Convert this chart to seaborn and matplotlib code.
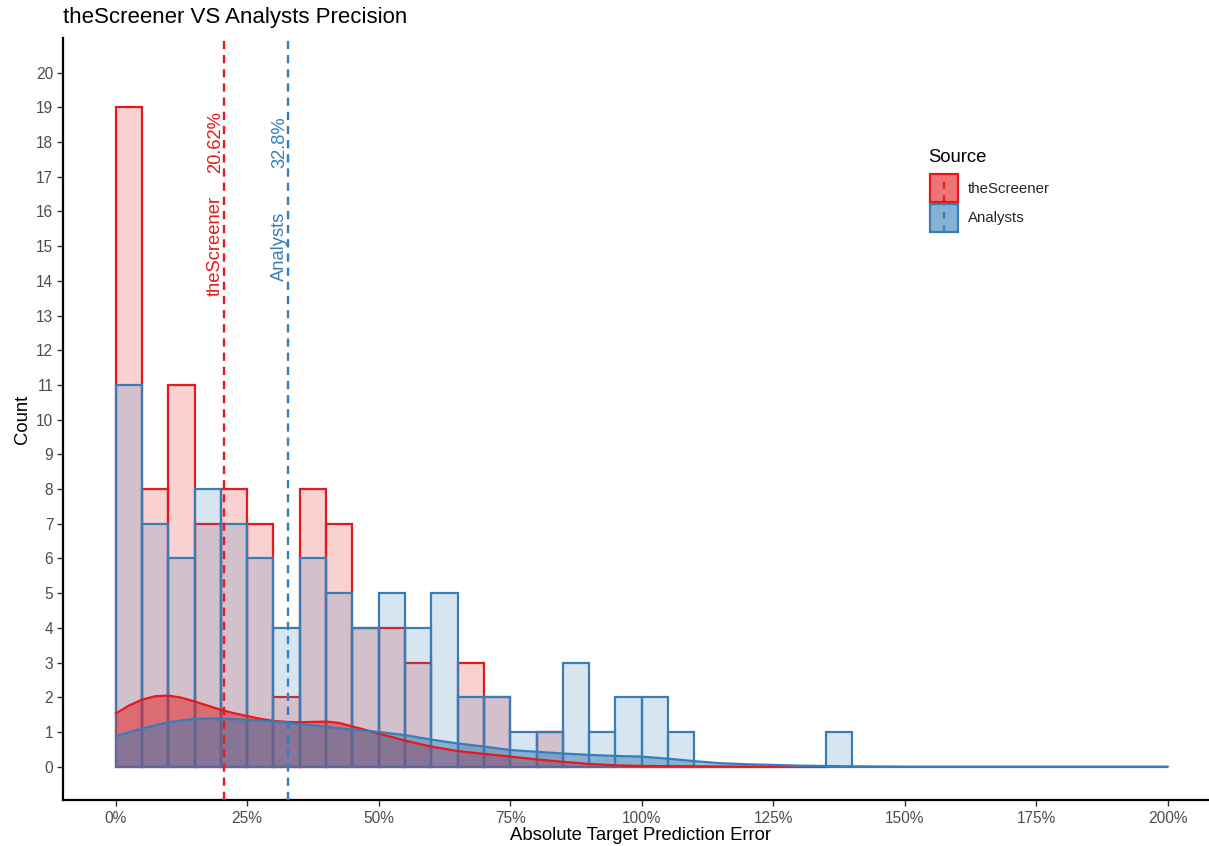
import numpy as np
import pandas as pd
import matplotlib
matplotlib.use("Agg")
import matplotlib.pyplot as plt
import seaborn as sns
from matplotlib.colors import to_rgba
from matplotlib.patches import Patch, Rectangle
from matplotlib.lines import Line2D
from matplotlib.legend_handler import HandlerPatch

# ---------------- data ----------------
sources = ["theScreener", "Analysts"]
source_colors = ["#E41A1C", "#377EB8"]
bin_width = 5  # percent

# counts per 5% bin, starting at 0%
screener_counts = [19, 8, 11, 7, 8, 7, 2, 8, 7, 4, 4, 3, 0, 3, 2, 0, 1,
                   0, 0, 0, 0, 0, 0, 0, 0, 0, 0]
analysts_counts = [11, 7, 6, 8, 7, 6, 4, 6, 5, 4, 5, 4, 5, 2, 2, 1, 1,
                   3, 1, 2, 2, 1, 0, 0, 0, 0, 0, 1,
                   0, 0, 0, 0, 0, 0, 0, 0, 0, 0, 0, 0]

# density curves (scaled to count axis)
screener_density_x = [0, 2.5, 5, 7.5, 10, 12.5, 15, 17.5, 20, 22.5, 25, 27.5, 30,
                      32.5, 35, 37.5, 40, 42.5, 45, 47.5, 50, 55, 60, 65, 70, 75,
                      80, 85, 90, 95, 100, 110, 120, 135]
screener_density_y = [1.53, 1.76, 1.93, 2.03, 2.05, 1.99, 1.88, 1.76, 1.64, 1.54,
                      1.46, 1.38, 1.32, 1.29, 1.28, 1.29, 1.30, 1.26, 1.16, 1.06,
                      0.96, 0.75, 0.58, 0.45, 0.37, 0.29, 0.21, 0.14, 0.08, 0.04,
                      0.02, 0.01, 0.0, 0.0]
analysts_density_x = [0, 5, 10, 15, 20, 25, 30, 35, 40, 45, 50, 55, 60, 65, 70, 75,
                      80, 85, 90, 95, 100, 105, 110, 115, 120, 125, 130, 135, 140,
                      150, 200]
analysts_density_y = [0.88, 1.10, 1.28, 1.38, 1.39, 1.35, 1.30, 1.23, 1.15, 1.07,
                      1.00, 0.91, 0.78, 0.67, 0.58, 0.48, 0.43, 0.38, 0.34, 0.31,
                      0.29, 0.23, 0.16, 0.10, 0.07, 0.05, 0.03, 0.02, 0.01, 0.0, 0.0]

means = [20.62, 32.8]
mean_labels = ["20.62%", "32.8%"]

x_ticks = [0, 25, 50, 75, 100, 125, 150, 175, 200]
x_tick_labels = [f"{t}%" for t in x_ticks]
y_ticks = list(range(0, 21))

title = "theScreener VS Analysts Precision"
x_label = "Absolute Target Prediction Error"
y_label = "Count"
legend_title = "Source"

# ---------------- style ----------------
sns.set_style("white")
plt.rcParams["font.family"] = ["Liberation Sans", "DejaVu Sans"]

W, H = 1209, 846
fig = plt.figure(figsize=(W / 100, H / 100), dpi=100)
ax_left, ax_right, ax_top, ax_bottom = 63, 1220.6, 38, 800
ax = fig.add_axes([ax_left / W, 1 - ax_bottom / H,
                   (ax_right - ax_left) / W, (ax_bottom - ax_top) / H])

all_counts = [screener_counts, analysts_counts]
all_dx = [screener_density_x, analysts_density_x]
all_dy = [screener_density_y, analysts_density_y]

# histograms
for counts, color in zip(all_counts, source_colors):
    edges = [bin_width * i for i in range(len(counts) + 1)]
    mids = [e + bin_width / 2 for e in edges[:-1]]
    df = pd.DataFrame({"x": mids, "w": counts})
    sns.histplot(data=df, x="x", weights="w", bins=edges, ax=ax,
                 element="bars", fill=True, color=color,
                 facecolor=to_rgba(color, 0.2), edgecolor=color,
                 linewidth=1.6, zorder=2)

# density curves
for dx, dy, color in zip(all_dx, all_dy, source_colors):
    ax.fill_between(dx, dy, 0, color=color, alpha=0.5, lw=0, zorder=3)
    sns.lineplot(x=dx, y=dy, color=color, lw=1.6, ax=ax, zorder=3.1)

# mean lines + labels
for name, m, lab, color in zip(sources, means, mean_labels, source_colors):
    ax.axvline(m, color=color, lw=1.7, ls=(0, (3.5, 2.5)), zorder=4)
    ax.annotate(lab, xy=(m, 18), xytext=(0, 0), textcoords="offset points",
                rotation=90, ha="right", va="center", color=color, fontsize=13.2,
                zorder=5)
    ax.annotate(name, xy=(m, 15), xytext=(0, 0), textcoords="offset points",
                rotation=90, ha="right", va="center", color=color, fontsize=13.2,
                zorder=5)

ax.set_xlim(-10, 210)
ax.set_ylim(-0.96, 21)
ax.set_xticks(x_ticks)
ax.set_xticklabels(x_tick_labels)
ax.set_yticks(y_ticks)
ax.set_yticklabels([str(v) for v in y_ticks])
ax.set_xlabel("")
ax.set_ylabel("")
for s in ["top", "right"]:
    ax.spines[s].set_visible(False)
for s in ["left", "bottom"]:
    ax.spines[s].set_color("black")
    ax.spines[s].set_linewidth(1.6)
ax.tick_params(axis="both", bottom=True, left=True, length=4, width=1.0,
               color="#333333", labelcolor="#4D4D4D", labelsize=11.2, pad=3,
               direction="out")
ax.tick_params(axis="x", pad=4)
ax.grid(False)

# titles
fig.text(63 / W, 1 - 17 / H, title, ha="left", va="center", fontsize=16,
         color="black")
fig.text(641 / W, 1 - 835 / H, x_label, ha="center", va="center",
         fontsize=13.3, color="black")
fig.text(22 / W, 1 - 419 / H, y_label, ha="center", va="center",
         rotation=90, fontsize=13.3, color="black")


# legend with vertical dashed line in the key
class KeyHandler(HandlerPatch):
    def create_artists(self, legend, orig_handle, xdescent, ydescent,
                       width, height, fontsize, trans):
        rect = Rectangle((-xdescent, -ydescent), width, height,
                         facecolor=orig_handle.get_facecolor(),
                         edgecolor=orig_handle.get_edgecolor(),
                         lw=1.6, transform=trans)
        xm = -xdescent + width / 2
        line = Line2D([xm, xm], [-ydescent, -ydescent + height],
                      color=orig_handle.get_edgecolor(), lw=1.6,
                      ls=(0, (3, 3)), transform=trans)
        return [rect, line]


fig.text(928 / W, 1 - 157 / H, legend_title, ha="left", va="center",
         fontsize=13.3, color="black")
key_faces = ["#EF7577", "#85B1D4"]
handles = [Patch(facecolor=f, edgecolor=c, label=n)
           for f, c, n in zip(key_faces, source_colors, sources)]
leg = ax.legend(handles=handles,
                handler_map={Patch: KeyHandler()},
                loc="upper left", bbox_to_anchor=(930 / W, 1 - 174 / H),
                bbox_transform=fig.transFigure, frameon=False,
                fontsize=10.8, borderaxespad=0,
                borderpad=0, handlelength=1.85, handleheight=2.5,
                handletextpad=0.65, labelspacing=0.1)

fig.savefig("out.png", dpi=100)
